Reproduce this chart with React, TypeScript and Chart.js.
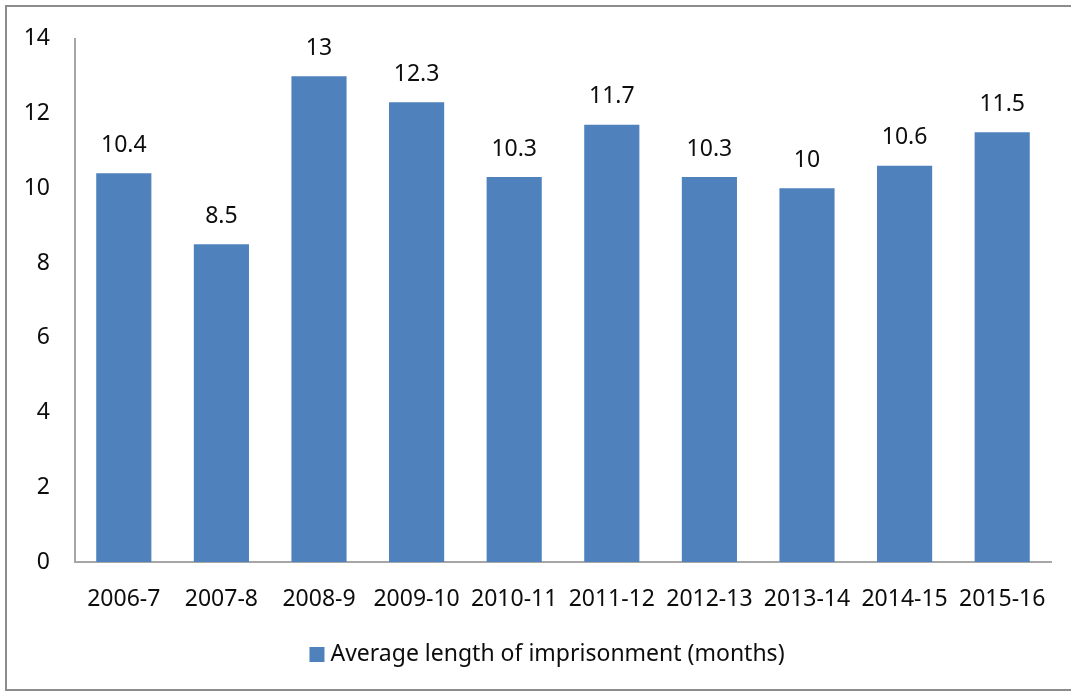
import React, { useEffect, useRef } from "react";
import { Chart, registerables } from "chart.js";

Chart.register(...registerables);

const categories = ["2006-7", "2007-8", "2008-9", "2009-10", "2010-11", "2011-12", "2012-13", "2013-14", "2014-15", "2015-16"];
const values = [10.4, 8.5, 13, 12.3, 10.3, 11.7, 10.3, 10, 10.6, 11.5];
const seriesName = "Average length of imprisonment (months)";
const yTicks = [0, 2, 4, 6, 8, 10, 12, 14];

const FONT = "'Noto Sans', sans-serif";
const TEXT = "#0d0d0d";
const FS = 23;
const BAR = "#4F81BD";

const dataLabels = {
  id: "dataLabels",
  afterDatasetsDraw(chart: any) {
    const ctx = chart.ctx;
    const meta = chart.getDatasetMeta(0);
    ctx.save();
    ctx.font = `${FS}px ${FONT}`;
    ctx.fillStyle = TEXT;
    ctx.textAlign = "center";
    ctx.textBaseline = "middle";
    meta.data.forEach((el: any, i: number) => {
      ctx.fillText(String(values[i]), el.x, el.y - 28);
    });
    ctx.restore();
  },
};

const bottomLegend = {
  id: "bottomLegend",
  afterDraw(chart: any) {
    const ctx = chart.ctx;
    const ds = chart.data.datasets[0];
    ctx.save();
    ctx.font = `${FS}px ${FONT}`;
    const tw = ctx.measureText(ds.label).width;
    const box = 15;
    const gap = 6;
    const total = box + gap + tw;
    const cx = 547;
    const x0 = cx - total / 2;
    const cy = 654;
    ctx.fillStyle = ds.backgroundColor;
    ctx.fillRect(x0, cy - 7, box, box);
    ctx.fillStyle = TEXT;
    ctx.textAlign = "left";
    ctx.textBaseline = "middle";
    ctx.fillText(ds.label, x0 + box + gap, cy);
    ctx.restore();
  },
};

export default function App() {
  const ref = useRef<HTMLCanvasElement | null>(null);
  useEffect(() => {
    document.body.style.overflow = "hidden";
    const chart = new Chart(ref.current!, {
      type: "bar",
      data: {
        labels: categories,
        datasets: [
          {
            label: seriesName,
            data: values,
            backgroundColor: BAR,
            categoryPercentage: 1,
            barPercentage: 0.565,
          },
        ],
      },
      options: {
        animation: false,
        responsive: false,
        maintainAspectRatio: false,
        layout: { padding: { top: 37, left: 0, right: 20, bottom: 59 } },
        plugins: {
          tooltip: { enabled: false },
          legend: { display: false },
        },
        scales: {
          x: {
            grid: { display: false },
            border: { display: true, color: "#a6a6a6", width: 2 },
            ticks: { color: TEXT, font: { family: FONT, size: FS }, padding: 16, maxRotation: 0 },
            afterFit: (s: any) => {
              s.height = 71;
            },
          },
          y: {
            min: 0,
            max: 14,
            grid: { display: false, drawTicks: false },
            border: { display: true, color: "#a6a6a6", width: 2 },
            afterBuildTicks: (s: any) => {
              s.ticks = yTicks.map((v) => ({ value: v }));
            },
            ticks: { color: TEXT, font: { family: FONT, size: FS }, padding: 25 },
            afterFit: (s: any) => {
              s.width = 75;
            },
          },
        },
      },
      plugins: [dataLabels, bottomLegend],
    });
    return () => chart.destroy();
  }, []);
  return (
    <div>
      <div
        style={{
          position: "fixed",
          left: 5,
          top: 5,
          width: 1080,
          height: 682,
          border: "2px solid #8c8c8c",
          boxSizing: "content-box",
        }}
      />
      <canvas
        ref={ref}
        width={1071}
        height={692}
        style={{ position: "fixed", left: 0, top: 0, width: 1071, height: 692 }}
      />
    </div>
  );
}
